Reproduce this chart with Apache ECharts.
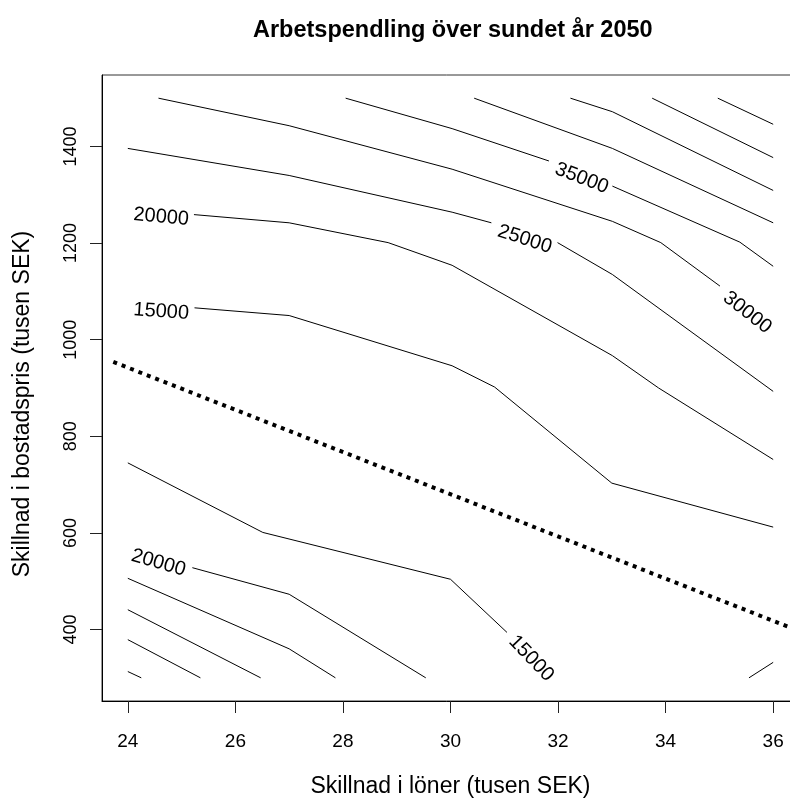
<!DOCTYPE html>
<html><head><meta charset="utf-8">
<script src="https://cdn.jsdelivr.net/npm/echarts@6/dist/echarts.min.js"></script>
<style>html,body{margin:0;padding:0;background:#fff}#c{width:790px;height:798px}</style>
</head><body><div id="c"></div>
<script>
// ---- data ----
const chartTitle = 'Arbetspendling över sundet år 2050';
const xName = 'Skillnad i löner (tusen SEK)';
const yName = 'Skillnad i bostadspris (tusen SEK)';
const xTicks = [24, 26, 28, 30, 32, 34, 36];
const yTicks = [400, 600, 800, 1000, 1200, 1400];

// contour polylines [x (tusen SEK), y (tusen SEK)], split where a label interrupts the line
const c15upper = [[25.24,1066],[27.0,1050],[30.03,946],[30.82,902],[33.0,703],[36.0,612]];
const c20upper = [[25.23,1259],[27.0,1242],[28.84,1201],[30.03,1154],[33.01,967],[33.87,900],[36.0,752]];
const c25a = [[24.0,1396],[27.0,1340],[30.03,1264],[30.76,1242]];
const c25b = [[31.99,1201],[33.01,1135],[36.0,893]];
const c30 = [[24.57,1500],[27.0,1443],[30.03,1353],[33.01,1245],[33.91,1201],[35.01,1111]];
const c35a = [[28.05,1500],[30.03,1437],[31.83,1370]];
const c35b = [[33.01,1318],[35.38,1202],[36.0,1152]];
const c40 = [[30.44,1500],[33.01,1396],[36.0,1242]];
const c45 = [[32.23,1500],[33.01,1472],[36.0,1309]];
const c50 = [[33.75,1500],[36.0,1377]];
const c55 = [[34.97,1500],[36.0,1446]];
const c15lower = [[24.0,745],[26.51,601],[30.0,504],[31.05,394]];
const c20lower = [[25.2,528],[27.0,473],[29.54,300]];
const c25lower = [[24.0,506],[27.0,360],[27.86,300]];
const c30lower = [[24.0,441],[26.47,300]];
const c35lower = [[24.0,379],[25.35,300]];
const c40lower = [[24.0,313],[24.25,300]];
const cCorner = [[35.55,300],[36.0,332]];
const boundary = [[23.73,954],[36.48,397]];

// contour labels
const labelTexts = ['15000','20000','25000','30000','35000','20000','15000'];
const labelX = [24.62, 24.62, 31.38, 35.52, 32.44, 24.57, 31.5];
const labelY = [1058, 1254, 1208, 1056, 1334, 538, 340];

// ---- styling / layout ----
const labelAngles = [-4, -5, -18, -38, -21, -16, -46];
const FONT = "'Liberation Sans', Arial, Helvetica, sans-serif";
const contourSegs = [c15upper,c20upper,c25a,c25b,c30,c35a,c35b,c40,c45,c50,c55,
  c15lower,c20lower,c25lower,c30lower,c35lower,c40lower,cCorner];

const series = contourSegs.map(d => ({
  type: 'line', data: d, showSymbol: false, silent: true, clip: true,
  lineStyle: { color: '#000', width: 1 }
}));
series.push({
  type: 'line', data: boundary, showSymbol: false, silent: true, clip: true,
  lineStyle: { color: '#000', width: 4, type: [4, 5], cap: 'butt' }
});
series.push({
  type: 'scatter', symbolSize: 0, silent: true,
  itemStyle: { opacity: 1 },
  data: labelTexts.map((t, i) => ({
    value: [labelX[i], labelY[i]], name: t,
    label: { rotate: labelAngles[i] }
  })),
  label: { show: true, position: 'inside', formatter: '{b}', color: '#000',
    opacity: 1, textBorderWidth: 0, fontSize: 20, fontFamily: FONT }
});

const chart = echarts.init(document.getElementById('c'), null, { renderer: 'canvas' });
chart.setOption({
  animation: false,
  backgroundColor: '#fff',
  title: { text: chartTitle, left: 253, top: 19, padding: 0,
    textStyle: { fontSize: 23.5, fontWeight: 'bold', color: '#000', fontFamily: FONT } },
  grid: { left: 102, top: 75, right: -9, bottom: 97, show: true,
    borderColor: '#333', borderWidth: 1, containLabel: false, outerBoundsMode: 'none' },
  xAxis: {
    type: 'value', min: 23.52, max: 36.48,
    name: xName, nameLocation: 'middle', nameGap: 74,
    nameTextStyle: { fontSize: 23, color: '#000', fontFamily: FONT },
    axisLine: { show: true, lineStyle: { color: '#000', width: 1 } },
    axisTick: { show: true, inside: false, length: 12, customValues: xTicks,
      lineStyle: { color: '#222', width: 1 } },
    axisLabel: { show: true, customValues: xTicks, margin: 31, fontSize: 19,
      color: '#000', fontFamily: FONT, formatter: v => String(v) },
    splitLine: { show: false }
  },
  yAxis: {
    type: 'value', min: 252, max: 1548,
    name: yName, nameLocation: 'middle', nameGap: 68,
    nameTextStyle: { fontSize: 23, color: '#000', fontFamily: FONT, padding: [0, 32, 0, 0] },
    axisLine: { show: true, lineStyle: { color: '#000', width: 1 } },
    axisTick: { show: true, inside: false, length: 12, customValues: yTicks,
      lineStyle: { color: '#222', width: 1 } },
    axisLabel: { show: true, customValues: yTicks, rotate: 90, margin: 22,
      fontSize: 18, color: '#000', fontFamily: FONT, formatter: v => String(v) },
    splitLine: { show: false }
  },
  series: series
});
</script></body></html>
